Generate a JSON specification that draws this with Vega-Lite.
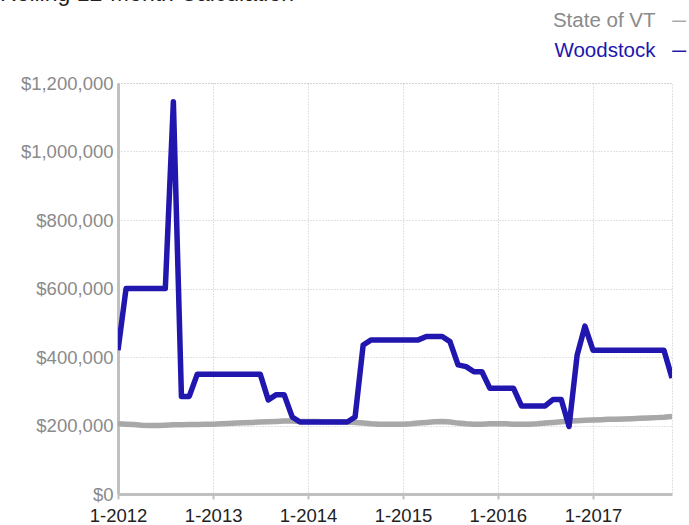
{
  "$schema": "https://vega.github.io/schema/vega-lite/v6.json",
  "autosize": "none",
  "width": 554,
  "height": 411,
  "padding": {"left": 118, "top": 83, "right": 17, "bottom": 31},
  "background": "white",
  "config": {
    "font": "Liberation Sans",
    "view": {"stroke": "#c4c4c4", "strokeDash": [1, 2], "strokeWidth": 1}
  },
  "title": {
    "text": "Rolling 12-Month Calculation",
    "anchor": "start",
    "frame": "group",
    "dx": -118,
    "dy": 17,
    "offset": 4,
    "baseline": "alphabetic",
    "fontSize": 23,
    "fontWeight": "normal",
    "color": "#222222"
  },
  "data": {
    "values": [
      {"d":"2012-01-01","s":"State of VT","v":205000},{"d":"2012-02-01","s":"State of VT","v":204000},{"d":"2012-03-01","s":"State of VT","v":203000},{"d":"2012-04-01","s":"State of VT","v":201000},{"d":"2012-05-01","s":"State of VT","v":200000},{"d":"2012-06-01","s":"State of VT","v":200000},{"d":"2012-07-01","s":"State of VT","v":201000},{"d":"2012-08-01","s":"State of VT","v":202000},{"d":"2012-09-01","s":"State of VT","v":202000},{"d":"2012-10-01","s":"State of VT","v":203000},{"d":"2012-11-01","s":"State of VT","v":203000},{"d":"2012-12-01","s":"State of VT","v":204000},
      {"d":"2013-01-01","s":"State of VT","v":204000},{"d":"2013-02-01","s":"State of VT","v":205000},{"d":"2013-03-01","s":"State of VT","v":206000},{"d":"2013-04-01","s":"State of VT","v":207000},{"d":"2013-05-01","s":"State of VT","v":208000},{"d":"2013-06-01","s":"State of VT","v":209000},{"d":"2013-07-01","s":"State of VT","v":210000},{"d":"2013-08-01","s":"State of VT","v":211000},{"d":"2013-09-01","s":"State of VT","v":212000},{"d":"2013-10-01","s":"State of VT","v":213000},{"d":"2013-11-01","s":"State of VT","v":213000},{"d":"2013-12-01","s":"State of VT","v":212000},
      {"d":"2014-01-01","s":"State of VT","v":212000},{"d":"2014-02-01","s":"State of VT","v":212000},{"d":"2014-03-01","s":"State of VT","v":211000},{"d":"2014-04-01","s":"State of VT","v":211000},{"d":"2014-05-01","s":"State of VT","v":211000},{"d":"2014-06-01","s":"State of VT","v":210000},{"d":"2014-07-01","s":"State of VT","v":209000},{"d":"2014-08-01","s":"State of VT","v":207000},{"d":"2014-09-01","s":"State of VT","v":205000},{"d":"2014-10-01","s":"State of VT","v":204000},{"d":"2014-11-01","s":"State of VT","v":204000},{"d":"2014-12-01","s":"State of VT","v":204000},
      {"d":"2015-01-01","s":"State of VT","v":204000},{"d":"2015-02-01","s":"State of VT","v":205000},{"d":"2015-03-01","s":"State of VT","v":207000},{"d":"2015-04-01","s":"State of VT","v":209000},{"d":"2015-05-01","s":"State of VT","v":211000},{"d":"2015-06-01","s":"State of VT","v":212000},{"d":"2015-07-01","s":"State of VT","v":210000},{"d":"2015-08-01","s":"State of VT","v":207000},{"d":"2015-09-01","s":"State of VT","v":205000},{"d":"2015-10-01","s":"State of VT","v":204000},{"d":"2015-11-01","s":"State of VT","v":204000},{"d":"2015-12-01","s":"State of VT","v":205000},
      {"d":"2016-01-01","s":"State of VT","v":205000},{"d":"2016-02-01","s":"State of VT","v":205000},{"d":"2016-03-01","s":"State of VT","v":204000},{"d":"2016-04-01","s":"State of VT","v":204000},{"d":"2016-05-01","s":"State of VT","v":204000},{"d":"2016-06-01","s":"State of VT","v":205000},{"d":"2016-07-01","s":"State of VT","v":207000},{"d":"2016-08-01","s":"State of VT","v":209000},{"d":"2016-09-01","s":"State of VT","v":211000},{"d":"2016-10-01","s":"State of VT","v":213000},{"d":"2016-11-01","s":"State of VT","v":214000},{"d":"2016-12-01","s":"State of VT","v":215000},
      {"d":"2017-01-01","s":"State of VT","v":216000},{"d":"2017-02-01","s":"State of VT","v":217000},{"d":"2017-03-01","s":"State of VT","v":218000},{"d":"2017-04-01","s":"State of VT","v":218000},{"d":"2017-05-01","s":"State of VT","v":219000},{"d":"2017-06-01","s":"State of VT","v":220000},{"d":"2017-07-01","s":"State of VT","v":221000},{"d":"2017-08-01","s":"State of VT","v":222000},{"d":"2017-09-01","s":"State of VT","v":223000},{"d":"2017-10-01","s":"State of VT","v":224000},{"d":"2017-11-01","s":"State of VT","v":226000},
      {"d":"2012-01-01","s":"Woodstock","v":420000},{"d":"2012-02-01","s":"Woodstock","v":600000},{"d":"2012-03-01","s":"Woodstock","v":600000},{"d":"2012-04-01","s":"Woodstock","v":600000},{"d":"2012-05-01","s":"Woodstock","v":600000},{"d":"2012-06-01","s":"Woodstock","v":600000},{"d":"2012-07-01","s":"Woodstock","v":600000},{"d":"2012-08-01","s":"Woodstock","v":1145000},{"d":"2012-09-01","s":"Woodstock","v":285000},{"d":"2012-10-01","s":"Woodstock","v":285000},{"d":"2012-11-01","s":"Woodstock","v":350000},{"d":"2012-12-01","s":"Woodstock","v":350000},
      {"d":"2013-01-01","s":"Woodstock","v":350000},{"d":"2013-02-01","s":"Woodstock","v":350000},{"d":"2013-03-01","s":"Woodstock","v":350000},{"d":"2013-04-01","s":"Woodstock","v":350000},{"d":"2013-05-01","s":"Woodstock","v":350000},{"d":"2013-06-01","s":"Woodstock","v":350000},{"d":"2013-07-01","s":"Woodstock","v":350000},{"d":"2013-08-01","s":"Woodstock","v":275000},{"d":"2013-09-01","s":"Woodstock","v":290000},{"d":"2013-10-01","s":"Woodstock","v":290000},{"d":"2013-11-01","s":"Woodstock","v":225000},{"d":"2013-12-01","s":"Woodstock","v":210000},
      {"d":"2014-01-01","s":"Woodstock","v":210000},{"d":"2014-02-01","s":"Woodstock","v":210000},{"d":"2014-03-01","s":"Woodstock","v":210000},{"d":"2014-04-01","s":"Woodstock","v":210000},{"d":"2014-05-01","s":"Woodstock","v":210000},{"d":"2014-06-01","s":"Woodstock","v":210000},{"d":"2014-07-01","s":"Woodstock","v":225000},{"d":"2014-08-01","s":"Woodstock","v":435000},{"d":"2014-09-01","s":"Woodstock","v":450000},{"d":"2014-10-01","s":"Woodstock","v":450000},{"d":"2014-11-01","s":"Woodstock","v":450000},{"d":"2014-12-01","s":"Woodstock","v":450000},
      {"d":"2015-01-01","s":"Woodstock","v":450000},{"d":"2015-02-01","s":"Woodstock","v":450000},{"d":"2015-03-01","s":"Woodstock","v":450000},{"d":"2015-04-01","s":"Woodstock","v":460000},{"d":"2015-05-01","s":"Woodstock","v":460000},{"d":"2015-06-01","s":"Woodstock","v":460000},{"d":"2015-07-01","s":"Woodstock","v":445000},{"d":"2015-08-01","s":"Woodstock","v":377000},{"d":"2015-09-01","s":"Woodstock","v":372000},{"d":"2015-10-01","s":"Woodstock","v":357000},{"d":"2015-11-01","s":"Woodstock","v":357000},{"d":"2015-12-01","s":"Woodstock","v":309000},
      {"d":"2016-01-01","s":"Woodstock","v":309000},{"d":"2016-02-01","s":"Woodstock","v":309000},{"d":"2016-03-01","s":"Woodstock","v":309000},{"d":"2016-04-01","s":"Woodstock","v":257000},{"d":"2016-05-01","s":"Woodstock","v":257000},{"d":"2016-06-01","s":"Woodstock","v":257000},{"d":"2016-07-01","s":"Woodstock","v":257000},{"d":"2016-08-01","s":"Woodstock","v":276000},{"d":"2016-09-01","s":"Woodstock","v":276000},{"d":"2016-10-01","s":"Woodstock","v":197000},{"d":"2016-11-01","s":"Woodstock","v":405000},{"d":"2016-12-01","s":"Woodstock","v":490000},
      {"d":"2017-01-01","s":"Woodstock","v":420000},{"d":"2017-02-01","s":"Woodstock","v":420000},{"d":"2017-03-01","s":"Woodstock","v":420000},{"d":"2017-04-01","s":"Woodstock","v":420000},{"d":"2017-05-01","s":"Woodstock","v":420000},{"d":"2017-06-01","s":"Woodstock","v":420000},{"d":"2017-07-01","s":"Woodstock","v":420000},{"d":"2017-08-01","s":"Woodstock","v":420000},{"d":"2017-09-01","s":"Woodstock","v":420000},{"d":"2017-10-01","s":"Woodstock","v":420000},{"d":"2017-11-01","s":"Woodstock","v":339000}
    ]
  },
  "mark": {"type": "line", "strokeWidth": 5.5, "strokeJoin": "round", "strokeCap": "butt", "clip": true},
  "encoding": {
    "x": {
      "field": "d",
      "type": "temporal",
      "scale": {"type": "utc", "domain": ["2012-01-01", "2017-11-01"]},
      "axis": {
        "title": null,
        "labelExpr": "utcFormat(datum.value, '%-m-%Y')",
        "values": [
          {"year": 2012, "month": 1, "date": 1, "utc": true},
          {"year": 2013, "month": 1, "date": 1, "utc": true},
          {"year": 2014, "month": 1, "date": 1, "utc": true},
          {"year": 2015, "month": 1, "date": 1, "utc": true},
          {"year": 2016, "month": 1, "date": 1, "utc": true},
          {"year": 2017, "month": 1, "date": 1, "utc": true}
        ],
        "labelFontSize": 18.5,
        "labelColor": "#222222",
        "labelPadding": 7,
        "labelFlush": false,
        "domainColor": "#c0c0c0",
        "domainWidth": 3,
        "tickColor": "#c0c0c0",
        "tickWidth": 2,
        "tickSize": 5,
        "grid": true,
        "gridColor": "#c4c4c4",
        "gridDash": [1, 2],
        "gridWidth": 1
      }
    },
    "y": {
      "field": "v",
      "type": "quantitative",
      "scale": {"domain": [0, 1200000], "nice": false},
      "axis": {
        "title": null,
        "values": [0, 200000, 400000, 600000, 800000, 1000000, 1200000],
        "format": "$,.0f",
        "labelFontSize": 18.5,
        "labelColor": "#8a8a8a",
        "labelPadding": 5,
        "ticks": false,
        "domainColor": "#c0c0c0",
        "domainWidth": 3,
        "grid": true,
        "gridColor": "#c4c4c4",
        "gridDash": [1, 2],
        "gridWidth": 1
      }
    },
    "color": {
      "field": "s",
      "type": "nominal",
      "scale": {"domain": ["State of VT", "Woodstock"], "range": ["#a8a8a8", "#2116ae"]},
      "legend": {
        "title": null,
        "orient": "none",
        "legendX": 551,
        "legendY": -72,
        "symbolType": "stroke",
        "symbolSize": 196,
        "symbolStrokeWidth": 1.5,
        "labelFontSize": 20.5,
        "labelAlign": "right",
        "labelOffset": -34,
        "rowPadding": 9,
        "labelLimit": 300,
        "encode": {
          "labels": {"update": {"fill": {"signal": "datum.value === 'Woodstock' ? '#2116ae' : '#8a8a8a'"}}}
        }
      }
    }
  }
}
